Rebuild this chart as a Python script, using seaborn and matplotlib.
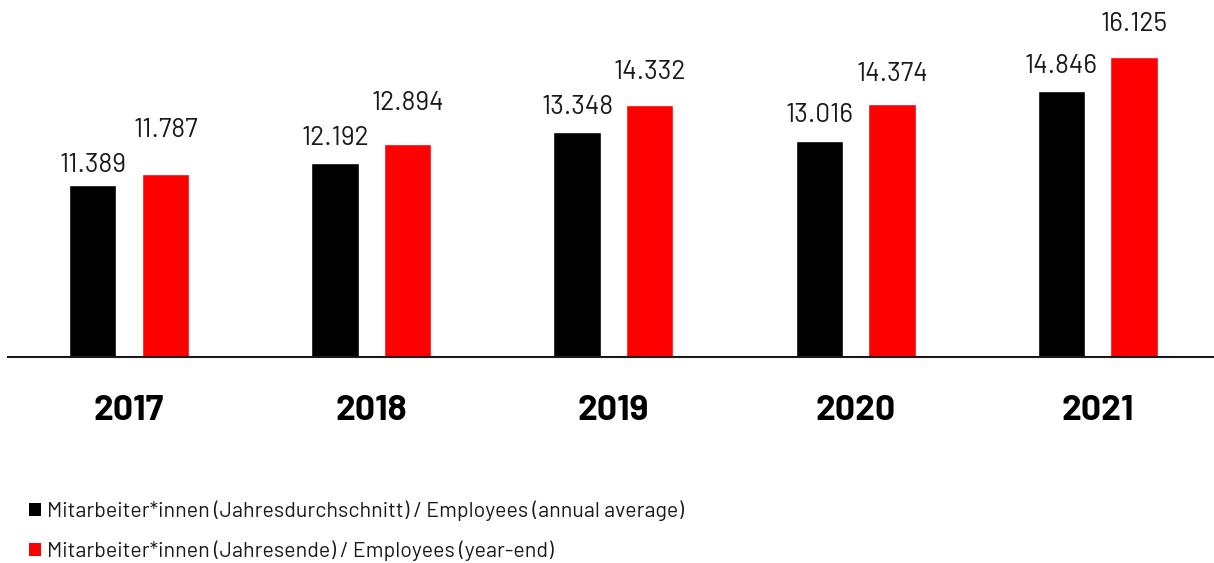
import pandas as pd
import matplotlib
matplotlib.use('Agg')
import matplotlib.pyplot as plt
import seaborn as sns
from matplotlib.patches import Patch

# Chart data
years = ['2017', '2018', '2019', '2020', '2021']
avg_employees = [11.389, 12.192, 13.348, 13.016, 14.846]
yearend_employees = [11.787, 12.894, 14.332, 14.374, 16.125]
series_labels = [
    'Mitarbeiter*innen (Jahresdurchschnitt) / Employees (annual average)',
    'Mitarbeiter*innen (Jahresende) / Employees (year-end)',
]
series_colors = ['#000000', '#ff0000']

# label gap above each bar (px), the original labels are not evenly placed
label_gap = [[13, 18, 18, 18.5, 18.5], [37, 34, 26, 23.5, 26]]

# Long format for seaborn
df = pd.DataFrame({
    'year': years * 2,
    'value': avg_employees + yearend_employees,
    'series': [series_labels[0]] * len(years) + [series_labels[1]] * len(years),
})

sns.set_style('white')
plt.rcParams['font.family'] = ['Barlow', 'DejaVu Sans']

fig = plt.figure(figsize=(12.14, 5.63), dpi=100)
ax = fig.add_axes([8 / 1214, 1 - 357.3 / 563, 1 - 8 / 1214, 357.3 / 563])

sns.barplot(data=df, x='year', y='value', hue='series', order=years,
            hue_order=series_labels, palette=series_colors,
            width=0.6, gap=0.35, saturation=1, legend=False, ax=ax)

ax.set_xlim(-0.5, 4.48)
ax.set_ylim(5, 18.23)

# Value labels above bars
for cont, gaps in zip(ax.containers, label_gap):
    for bar, val, g in zip(cont, cont.datavalues, gaps):
        ax.annotate(f'{val:.3f}', (bar.get_x() + bar.get_width() / 2, bar.get_height()),
                    xytext=(0, g * 0.72), textcoords='offset points',
                    ha='center', va='baseline', fontsize=19, color='#1a1a1a',
                    family=['Barlow', 'DejaVu Sans'])

# Axes styling
for s in ['top', 'right', 'left']:
    ax.spines[s].set_visible(False)
ax.spines['bottom'].set_color('#1a1a1a')
ax.spines['bottom'].set_linewidth(1.5)
ax.set_yticks([])
ax.set_xlabel('')
ax.set_ylabel('')
ax.tick_params(axis='x', length=0, pad=27)
for lbl in ax.get_xticklabels():
    lbl.set_fontsize(25.5)
    lbl.set_fontweight('bold')
    lbl.set_family(['Barlow', 'DejaVu Sans'])
    lbl.set_color('black')

# Legend at the bottom
handles = [Patch(facecolor=c, edgecolor='none') for c in series_colors]
fig.legend(handles, series_labels, loc='upper left',
           bbox_to_anchor=(29 / 1214, 1 - 500.5 / 563), frameon=False,
           prop={'family': ['Barlow', 'DejaVu Sans'], 'size': 15.4},
           handlelength=0.58, handleheight=0.58,
           handletextpad=0.28, labelspacing=0.9, borderpad=0, borderaxespad=0,
           labelcolor='#1a1a1a')

plt.savefig('out.png', dpi=100)
